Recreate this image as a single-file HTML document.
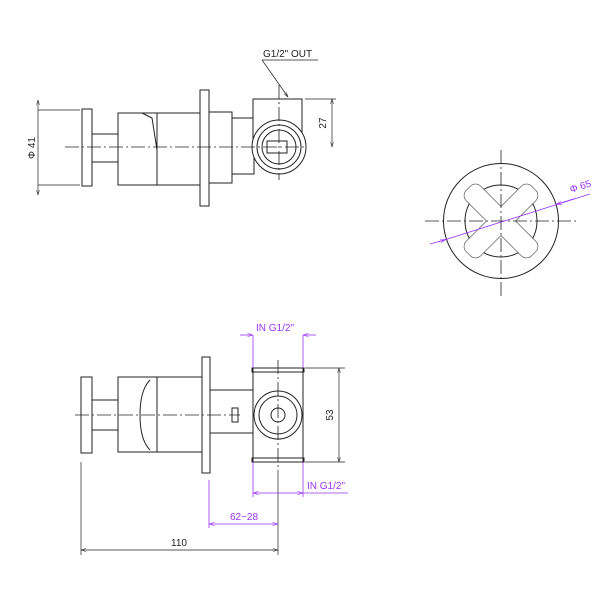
<!DOCTYPE html>
<html><head><style>body{margin:0;background:#fff}svg{display:block}</style></head><body>
<svg width="600" height="600" viewBox="0 0 600 600" xmlns="http://www.w3.org/2000/svg" font-family="Liberation Sans, sans-serif">
<defs>
<marker id="k" viewBox="0 0 10 10" refX="10" refY="5" markerWidth="7" markerHeight="7" orient="auto-start-reverse"><path d="M0,2 L10,5 L0,8" fill="none" stroke="#222"/></marker>
<marker id="p" viewBox="0 0 10 10" refX="10" refY="5" markerWidth="7" markerHeight="7" orient="auto-start-reverse"><path d="M0,2 L10,5 L0,8" fill="none" stroke="#9933ff"/></marker>
</defs>
<g fill="none" stroke="#222" stroke-width="1">
<!-- TOP VIEW -->
<rect x="82" y="109" width="10" height="77"/>
<rect x="92" y="134" width="26" height="28"/>
<rect x="118" y="113" width="39" height="72"/>
<path d="M142,113 L152,118 L157,150"/>
<rect x="157" y="113" width="43" height="72"/>
<rect x="200" y="90" width="9" height="116"/>
<rect x="209" y="112" width="23" height="71"/>
<rect x="232" y="118" width="22" height="56"/>
<rect x="253" y="99" width="49" height="40" fill="#fff"/>
<circle cx="279" cy="147" r="27" fill="#fff"/>
<circle cx="279" cy="147" r="22"/>
<circle cx="279" cy="147" r="17"/>
<rect x="267" y="141" width="20" height="12"/>
<g stroke-dasharray="14,3,2,3" stroke-width="0.8">
<line x1="65" y1="147" x2="305" y2="147"/>
<line x1="279" y1="85" x2="279" y2="180"/>
</g>
<line x1="38" y1="110" x2="80" y2="110" stroke-width="0.7"/>
<line x1="38" y1="185" x2="80" y2="185" stroke-width="0.7"/>
<line x1="38" y1="100" x2="38" y2="195" marker-start="url(#k)" marker-end="url(#k)" stroke-width="0.7"/>
<line x1="305" y1="99" x2="336" y2="99" stroke-width="0.7"/>
<line x1="332" y1="99" x2="332" y2="147" marker-start="url(#k)" marker-end="url(#k)" stroke-width="0.7"/>
<line x1="262" y1="60" x2="318" y2="60" stroke-width="0.7"/>
<line x1="262" y1="60" x2="288" y2="97" marker-end="url(#k)" stroke-width="0.7"/>

<!-- BOTTOM VIEW -->
<rect x="81" y="377" width="11" height="76"/>
<rect x="92" y="400" width="26" height="30"/>
<rect x="118" y="377" width="39" height="75"/>
<path d="M150,380 Q140,390 140,415 Q140,440 150,450"/>
<rect x="157" y="377" width="45" height="75"/>
<rect x="202" y="357" width="8" height="116"/>
<rect x="210" y="390" width="43" height="43"/>
<rect x="232" y="408" width="6" height="14"/>
<rect x="253" y="368" width="50" height="94" fill="#fff"/>
<rect x="252" y="368" width="52" height="4"/>
<rect x="252" y="458" width="52" height="4"/>
<circle cx="278" cy="415" r="24"/>
<circle cx="278" cy="415" r="19"/>
<circle cx="278" cy="415" r="7"/>
<g stroke-dasharray="14,3,2,3" stroke-width="0.8">
<line x1="75" y1="415" x2="240" y2="415"/>
<line x1="278" y1="360" x2="278" y2="470"/>
</g>
<line x1="305" y1="368" x2="345" y2="368" stroke-width="0.7"/>
<line x1="305" y1="462" x2="345" y2="462" stroke-width="0.7"/>
<line x1="339" y1="368" x2="339" y2="462" marker-start="url(#k)" marker-end="url(#k)" stroke-width="0.7"/>
<line x1="81" y1="462" x2="81" y2="555" stroke-width="0.7"/>
<line x1="278" y1="470" x2="278" y2="555" stroke-width="0.7"/>
<line x1="81" y1="550" x2="278" y2="550" marker-start="url(#k)" marker-end="url(#k)" stroke-width="0.7"/>

<!-- RIGHT VIEW -->
<circle cx="501" cy="221" r="57.5"/>
<circle cx="501" cy="221" r="36"/>
<g transform="rotate(45 501 221)">
<rect x="455" y="211" width="92" height="20" rx="7"/>
<rect x="491" y="175" width="20" height="92" rx="7"/>
<rect x="455" y="211" width="92" height="20" rx="7" fill="#fff" stroke="none"/>
<rect x="491" y="175" width="20" height="92" rx="7" fill="#fff" stroke="none"/>
</g>
<g stroke-dasharray="14,3,2,3" stroke-width="0.8">
<line x1="425" y1="221" x2="577" y2="221"/>
<line x1="501" y1="150" x2="501" y2="296"/>
</g>
</g>

<g fill="none" stroke="#9933ff" stroke-width="0.8">
<line x1="253" y1="335" x2="253" y2="368"/>
<line x1="303" y1="335" x2="303" y2="368"/>
<line x1="240" y1="335" x2="253" y2="335" marker-end="url(#p)"/>
<line x1="316" y1="335" x2="303" y2="335" marker-end="url(#p)"/>
<line x1="253" y1="462" x2="253" y2="497"/>
<line x1="303" y1="462" x2="303" y2="497"/>
<line x1="253" y1="493" x2="303" y2="493" marker-start="url(#p)" marker-end="url(#p)"/>
<line x1="303" y1="493" x2="348" y2="493"/>
<line x1="209" y1="480" x2="209" y2="528"/>
<line x1="209" y1="524" x2="278" y2="524" marker-start="url(#p)" marker-end="url(#p)"/>
<line x1="438" y1="242" x2="590" y2="194"/>
<line x1="430" y1="244" x2="446" y2="239.5" marker-end="url(#p)"/>
<line x1="575" y1="198.5" x2="556" y2="204.5" marker-end="url(#p)"/>
</g>

<g font-size="10" fill="#222">
<text x="263" y="57">G1/2" OUT</text>
<text transform="translate(35,148) rotate(-90)" text-anchor="middle">Φ 41</text>
<text transform="translate(326,123) rotate(-90)" text-anchor="middle">27</text>
<text transform="translate(333,415) rotate(-90)" text-anchor="middle">53</text>
<text x="179" y="546" text-anchor="middle">110</text>
</g>
<g font-size="10" fill="#9933ff">
<text x="256" y="331">IN  G1/2"</text>
<text x="307" y="489">IN  G1/2"</text>
<text x="244" y="520" text-anchor="middle">62~28</text>
<text transform="translate(571,193) rotate(-18)">Φ 65</text>
</g>
</svg>
</body></html>
